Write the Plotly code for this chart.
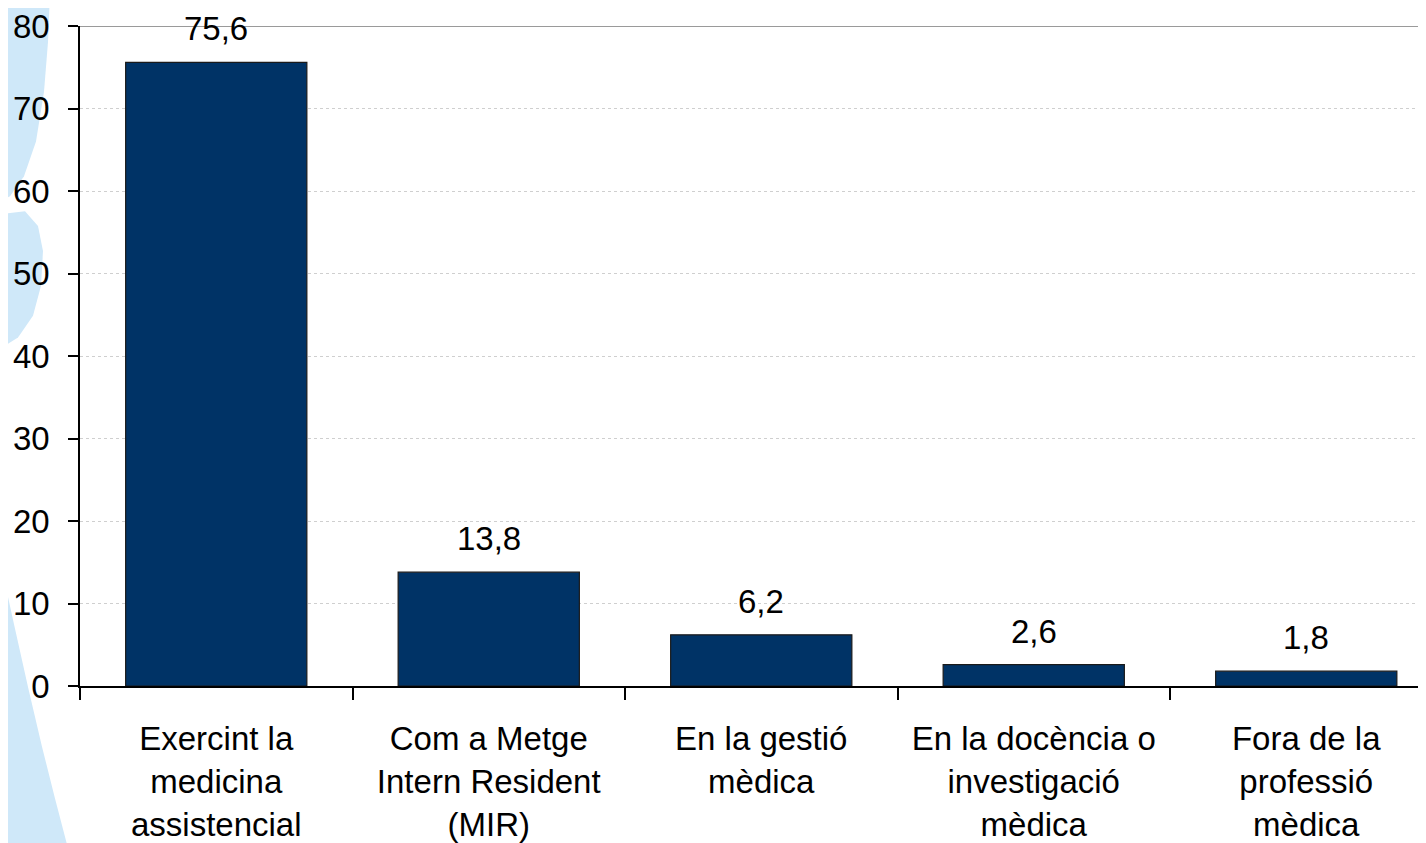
import plotly.graph_objects as go

categories = [
    "Exercint la<br>medicina<br>assistencial",
    "Com a Metge<br>Intern Resident<br>(MIR)",
    "En la gestió<br>mèdica",
    "En la docència o<br>investigació<br>mèdica",
    "Fora de la<br>professió<br>mèdica",
]
values = [75.6, 13.8, 6.2, 2.6, 1.8]
value_labels = ["75,6", "13,8", "6,2", "2,6", "1,8"]
y_ticks = [0, 10, 20, 30, 40, 50, 60, 70, 80]

OFF = 8  # page body margin
W, H = 1426 - OFF, 843 - OFF
ML, MR, MT, MB = 80 - OFF, 0, 24 - OFF, 156
PW, PH = W - ML - MR, H - MT - MB

FONT = "Liberation Sans, Arial, sans-serif"
BAR = "#003366"
BG_BLUE = "#cfe8f9"


def px2paper(x, y):
    fx, fy = x - OFF, y - OFF
    return (fx - ML) / PW, (H - MB - fy) / PH


def path_from(points):
    parts = []
    for i, (x, y) in enumerate(points):
        px, py = px2paper(x, y)
        parts.append(("M" if i == 0 else "L") + f"{px:.5f},{py:.5f}")
    return " ".join(parts) + " Z"


# decorative light-blue swoosh in the left margin (page pixel outline)
blob_a = [(-10, -10), (50, -10), (48, 40), (44, 90), (36, 140), (24, 175), (10, 195), (-10, 205)]
blob_b = [(-10, 222), (8, 212), (25, 210), (38, 225), (43, 250), (41, 285), (33, 315), (18, 337), (0, 348), (-10, 350)]
blob_c = [(-10, 560), (2, 570), (14, 625), (28, 688), (42, 748), (55, 800), (68, 850), (-10, 850)]

fig = go.Figure()
fig.add_trace(go.Bar(
    x=categories,
    y=values,
    width=0.665,
    marker=dict(color=BAR, line=dict(color="#1a1a1a", width=1.2)),
    hoverinfo="skip",
))

annotations = []
for c, v, t in zip(categories, values, value_labels):
    annotations.append(dict(
        x=c, y=v, xref="x", yref="y", text=t, showarrow=False,
        yanchor="bottom", yshift=13,
        font=dict(family=FONT, size=33, color="#000000"),
    ))

shapes = []
for pts in (blob_a, blob_b, blob_c):
    shapes.append(dict(type="path", xref="paper", yref="paper", path=path_from(pts),
                       fillcolor=BG_BLUE, line=dict(width=0), layer="below"))
shapes.append(dict(type="line", xref="paper", yref="y", x0=0, x1=1, y0=80, y1=80,
                   line=dict(color="#9a9a9a", width=2), layer="above"))

fig.update_layout(
    width=W, height=H,
    margin=dict(l=ML, r=MR, t=MT, b=MB, pad=0),
    paper_bgcolor="#ffffff",
    plot_bgcolor="#ffffff",
    showlegend=False,
    annotations=annotations,
    shapes=shapes,
    font=dict(family=FONT, size=33, color="#000000"),
    bargap=0.335,
)
fig.update_xaxes(
    type="category",
    range=[-0.5, -0.5 + PW / 272.5],
    tickson="boundaries",
    ticks="outside", ticklen=12, tickwidth=1.5, tickcolor="#000000",
    showline=True, linecolor="#000000", linewidth=1.5,
    showgrid=False,
    tickfont=dict(family=FONT, size=33, color="#000000"),
    ticklabelstandoff=23,
    ticklabeloverflow="allow",
)
fig.update_yaxes(
    range=[0, 80],
    tickvals=y_ticks,
    ticks="outside", ticklen=10, tickwidth=1.5, tickcolor="#000000",
    showline=True, linecolor="#000000", linewidth=1.5,
    showgrid=True, gridcolor="#cfcfcf", gridwidth=1, griddash="dot",
    zeroline=False,
    tickfont=dict(family=FONT, size=33, color="#000000"),
    ticklabelstandoff=12,
    ticklabeloverflow="allow",
)

fig.write_html("out.html")
